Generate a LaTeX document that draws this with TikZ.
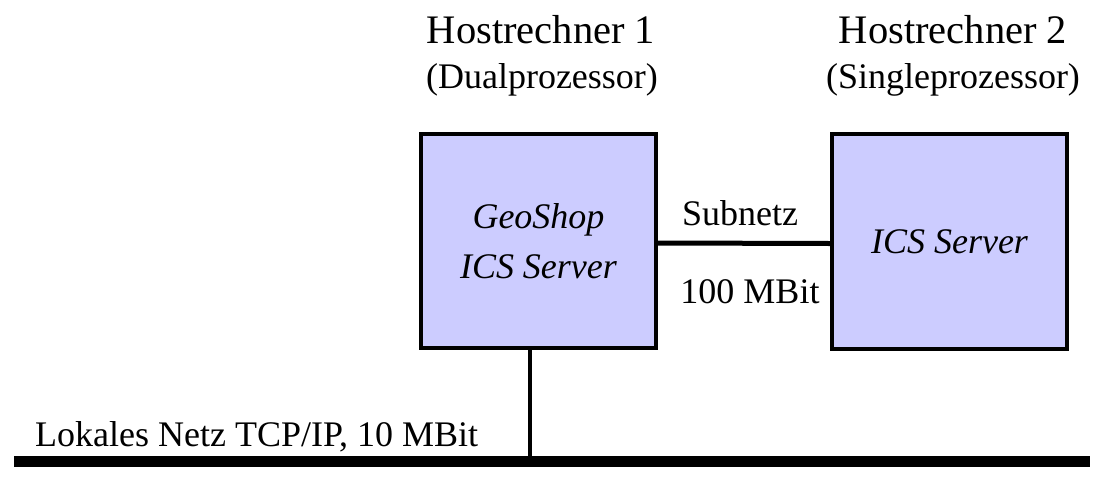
\documentclass[tikz,border=0pt]{standalone}
\usepackage{fontspec}
\setmainfont{Liberation Serif}
\definecolor{boxfill}{RGB}{204,204,255}
\begin{document}
\begin{tikzpicture}[x=1pt,y=-1pt,
  hostbox/.style={draw=black,line width=4pt,fill=boxfill,rectangle,inner sep=0pt,
    minimum width=235pt,align=center,font=\fontsize{36}{50}\selectfont\itshape},
  title/.style={anchor=base,inner sep=0pt,font=\fontsize{40.5}{48}\selectfont},
  subtitle/.style={anchor=base,inner sep=0pt,font=\fontsize{36}{42}\selectfont},
  label/.style={inner sep=0pt,font=\fontsize{36}{42}\selectfont},
  link/.style={line width=5pt},
  tapline/.style={line width=4pt},
  busline/.style={line width=11pt}]
\useasboundingbox (0,0) rectangle (1109,485);
% boxes
\node[hostbox,minimum height=214pt] (box1) at (538.5,241) {GeoShop\\ICS Server};
\node[hostbox,minimum height=215pt] (box2) at (949.5,241.5) {ICS Server};
% titles
\node[title] (t1) at (541,43) {Hostrechner 1};
\node[subtitle] (s1) at (542,88) {(Dualprozessor)};
\node[title] (t2) at (953,43) {Hostrechner 2};
\node[subtitle] (s2) at (953,88) {(Singleprozessor)};
% subnet
\draw[link] ([yshift=-2pt]box1.east) -- ([yshift=-2pt]box2.west);
\node[label,anchor=base] (sub) at (740,225) {Subnetz};
\node[label,anchor=base] (mbit) at (750,303) {100 MBit};
% bus
\coordinate (busL) at (14,461);
\coordinate (busR) at (1090,461);
\coordinate (tap) at (530,461);
\draw[busline] (busL) -- (busR);
\draw[tapline] (tap |- box1.south) -- (tap);
\node[label,anchor=base west] (lan) at (35,446) {Lokales Netz TCP/IP, 10 MBit};
\end{tikzpicture}
\end{document}
